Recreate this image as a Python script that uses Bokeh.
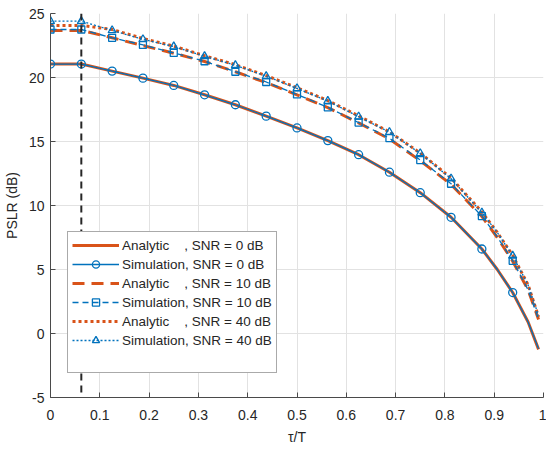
from bokeh.plotting import figure
from bokeh.models import FixedTicker, Legend, LegendItem, Span, Range1d
from bokeh.embed import file_html
from bokeh.resources import INLINE

# ---------------- data ----------------
tau = [0.0, 0.0625, 0.125, 0.1875, 0.25, 0.3125, 0.375, 0.4375, 0.5, 0.5625,
       0.625, 0.6875, 0.75, 0.8125, 0.875, 0.90625, 0.9375, 0.96875, 0.99]
tau_markers = [0.0, 0.0625, 0.125, 0.1875, 0.25, 0.3125, 0.375, 0.4375, 0.5,
               0.5625, 0.625, 0.6875, 0.75, 0.8125, 0.875, 0.9375]

ana_0 = [21.05, 21.05, 20.5, 19.95, 19.38, 18.65, 17.87, 16.98, 16.06, 15.07,
         13.97, 12.6, 11.0, 9.08, 6.6, 5.0, 3.2, 0.9, -1.24]
sim_0 = [21.05, 21.05, 20.5, 19.95, 19.38, 18.65, 17.87, 16.98, 16.06, 15.07,
         13.97, 12.6, 11.0, 9.08, 6.6, 5.0, 3.2, 0.9, -1.2]
ana_10 = [23.68, 23.68, 23.1, 22.5, 21.9, 21.25, 20.45, 19.6, 18.65, 17.65,
          16.45, 15.2, 13.5, 11.65, 9.15, 7.5, 5.65, 3.4, 1.1]
sim_10 = [23.75, 23.75, 23.1, 22.55, 21.92, 21.27, 20.45, 19.65, 18.68, 17.67,
          16.48, 15.26, 13.55, 11.7, 9.17, 7.55, 5.68, 3.4, 1.1]
ana_40 = [24.07, 24.07, 23.75, 23.05, 22.45, 21.7, 21.0, 20.15, 19.2, 18.2,
          17.0, 15.75, 14.1, 12.15, 9.5, 7.9, 6.1, 3.8, 1.3]
sim_40 = [24.4, 24.4, 23.68, 22.98, 22.42, 21.66, 20.96, 20.1, 19.15, 18.16,
          16.94, 15.73, 14.07, 12.1, 9.44, 7.9, 6.07, 3.8, 1.4]

tau_cut = 0.0625

x_ticks = [0, 0.1, 0.2, 0.3, 0.4, 0.5, 0.6, 0.7, 0.8, 0.9, 1]
x_tick_labels = ["0", "0.1", "0.2", "0.3", "0.4", "0.5", "0.6", "0.7", "0.8", "0.9", "1"]
y_ticks = [-5, 0, 5, 10, 15, 20, 25]
y_tick_labels = ["-5", "0", "5", "10", "15", "20", "25"]

labels = ["Analytic\u00a0\u00a0\u00a0\u00a0, SNR = 0 dB", "Simulation, SNR = 0 dB",
          "Analytic\u00a0\u00a0\u00a0\u00a0, SNR = 10 dB", "Simulation, SNR = 10 dB",
          "Analytic\u00a0\u00a0\u00a0\u00a0, SNR = 40 dB", "Simulation, SNR = 40 dB"]

ORANGE = "#D95319"
BLUE = "#0072BD"
FONT = "Liberation Sans"

# ---------------- figure ----------------
p = figure(width=546, height=447, output_backend="svg", toolbar_location=None,
           x_range=Range1d(0, 1), y_range=Range1d(-5, 25),
           min_border_left=50, min_border_right=3, min_border_top=13,
           min_border_bottom=48)
p.outline_line_color = None
p.background_fill_color = "white"

def marker_vals(vals):
    return [v for t, v in zip(tau, vals) if t in tau_markers]

r_a0 = p.line(tau, ana_0, line_color=ORANGE, line_width=3)
r_a10 = p.line(tau, ana_10, line_color=ORANGE, line_width=3, line_dash="12 7")
r_a40 = p.line(tau, ana_40, line_color=ORANGE, line_width=3, line_dash="3 3")

r_s0 = p.line(tau, sim_0, line_color=BLUE, line_width=1.3)
m_s0 = p.scatter(tau_markers, marker_vals(sim_0), marker="circle", size=8,
                 fill_color=None, line_color=BLUE, line_width=1.3)
r_s10 = p.line(tau, sim_10, line_color=BLUE, line_width=1.3, line_dash="6 4")
m_s10 = p.scatter(tau_markers, marker_vals(sim_10), marker="square", size=7,
                  fill_color=None, line_color=BLUE, line_width=1.3)
r_s40 = p.line(tau, sim_40, line_color=BLUE, line_width=1.3, line_dash="2 2")
m_s40 = p.scatter(tau_markers, marker_vals(sim_40), marker="triangle", size=8,
                  fill_color=None, line_color=BLUE, line_width=1.3)

vline = Span(location=tau_cut, dimension="height", line_color="#262626",
             line_width=2, line_dash="7 5")
p.add_layout(vline)

dummy = p.line([0], [0], line_alpha=0)

# ---------------- axes / grid ----------------
p.xaxis.ticker = FixedTicker(ticks=x_ticks)
p.yaxis.ticker = FixedTicker(ticks=y_ticks)
p.xaxis.major_label_overrides = {t: l for t, l in zip(x_ticks, x_tick_labels)}
p.yaxis.major_label_overrides = {t: l for t, l in zip(y_ticks, y_tick_labels)}
for ax in (p.xaxis, p.yaxis):
    ax.major_tick_in = 5
    ax.major_tick_out = 0
    ax.minor_tick_in = 0
    ax.minor_tick_out = 0
    ax.axis_line_color = "#4a4a4a"
    ax.major_tick_line_color = "#4a4a4a"
    ax.major_label_text_font = FONT
    ax.major_label_text_font_size = "14px"
    ax.major_label_text_color = "#262626"
    ax.axis_label_text_font = FONT
    ax.axis_label_text_font_size = "14px"
    ax.axis_label_text_font_style = "normal"
    ax.axis_label_text_color = "#262626"
p.xaxis.major_label_standoff = 12
p.yaxis.major_label_standoff = 6
p.yaxis.axis_label = "PSLR (dB)"
p.yaxis.axis_label_standoff = 6
p.xaxis.axis_label = "\u03c4/T"
p.xaxis.axis_label_standoff = 6

p.grid.grid_line_color = "#e2e2e2"
p.grid.grid_line_width = 1

# ---------------- legend ----------------
items = [
    LegendItem(label=labels[0], renderers=[r_a0]),
    LegendItem(label=labels[1], renderers=[r_s0, m_s0]),
    LegendItem(label=labels[2], renderers=[r_a10]),
    LegendItem(label=labels[3], renderers=[r_s10, m_s10]),
    LegendItem(label=labels[4], renderers=[r_a40]),
    LegendItem(label=labels[5], renderers=[r_s40, m_s40]),
    LegendItem(label="\u00a0", renderers=[dummy]),
]
legend = Legend(items=items, location=(17, 24), orientation="vertical",
                label_text_font=FONT, label_text_font_size="13.5px",
                label_text_color="#262626",
                glyph_width=47, glyph_height=18, label_height=18, spacing=1,
                padding=4, margin=0, label_standoff=3,
                border_line_color="#555555", border_line_width=1,
                background_fill_color="white", background_fill_alpha=1)
p.add_layout(legend)

open("out.html", "w").write(file_html(p, INLINE))
